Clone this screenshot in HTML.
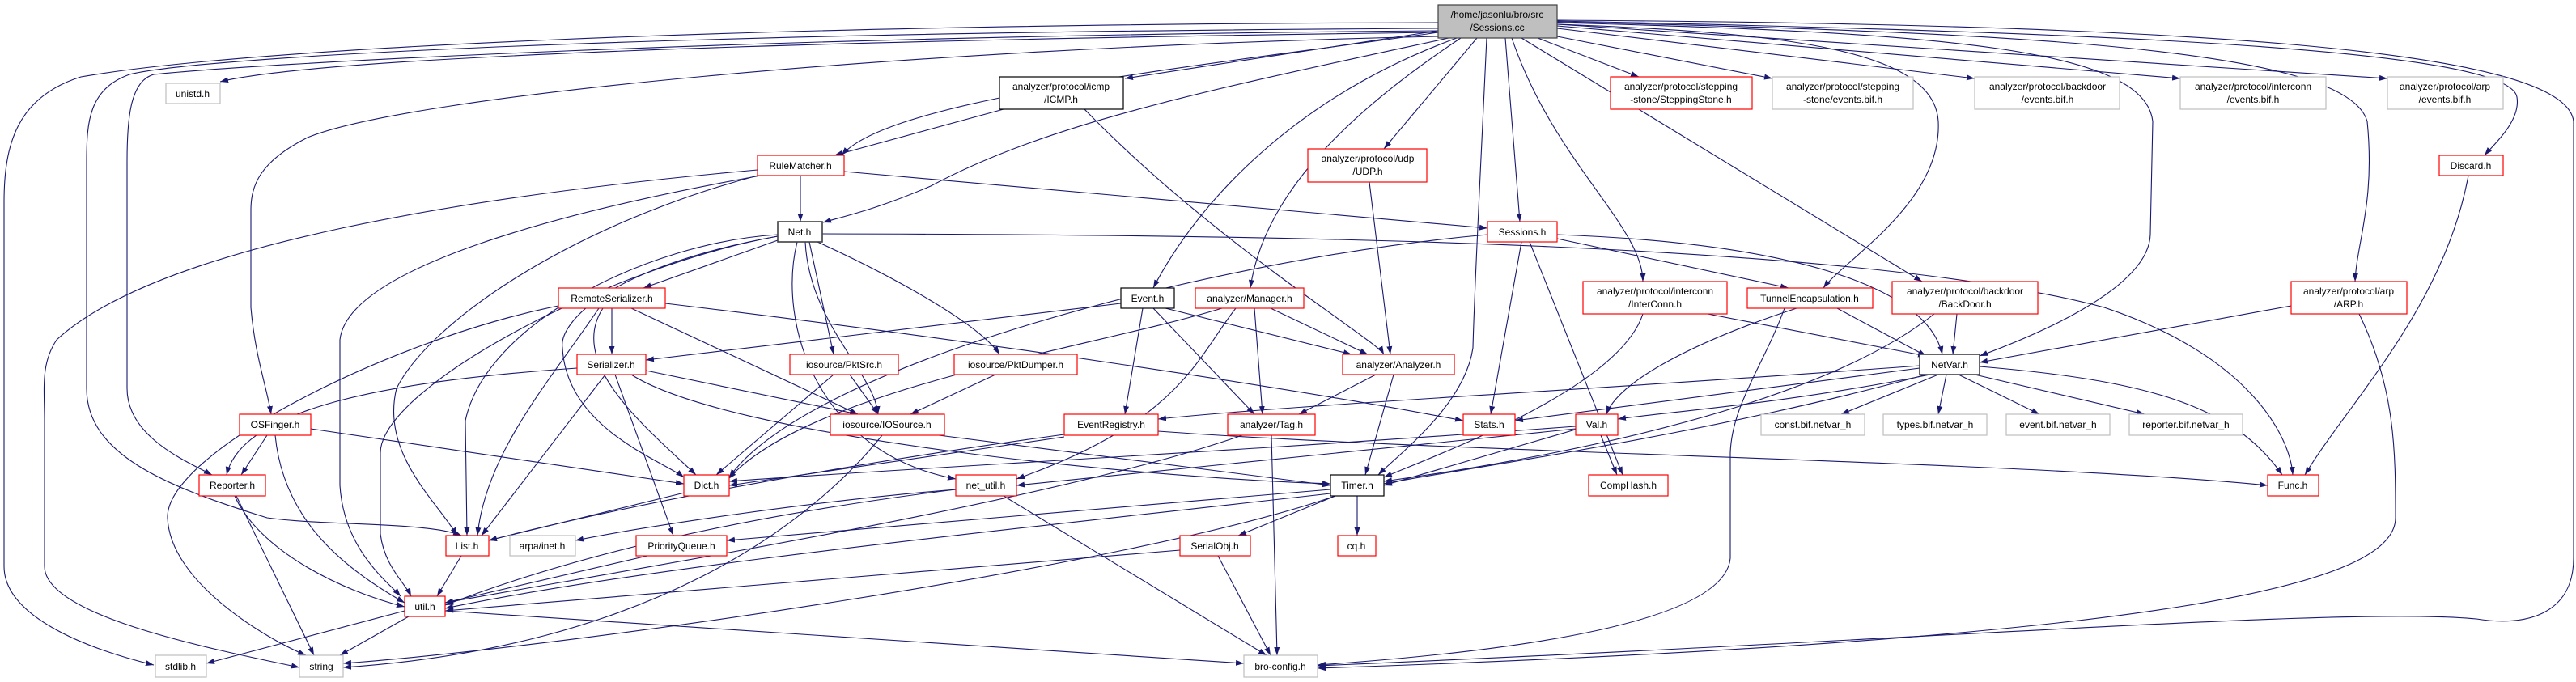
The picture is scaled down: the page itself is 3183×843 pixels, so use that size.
<!DOCTYPE html>
<html><head><meta charset="utf-8"><style>
html,body{margin:0;padding:0;background:#fff;}
svg{display:block;}
text{font-family:"Liberation Sans",Arial,sans-serif;font-size:12px;fill:#000;text-anchor:middle;}
.e{fill:none;stroke:#191970;stroke-width:1.1;marker-end:url(#a);}
.r{fill:#fff;stroke:#ff0000;stroke-width:1.2;}
.g{fill:#fff;stroke:#bfbfbf;stroke-width:1.2;}
.k{fill:#fff;stroke:#000;stroke-width:1.2;}
.m{fill:#bfbfbf;stroke:#404040;stroke-width:1.2;}
</style></head><body>
<svg width="3183" height="843" viewBox="0 0 3183 843" xmlns="http://www.w3.org/2000/svg">
<defs><marker id="a" markerUnits="userSpaceOnUse" markerWidth="11" markerHeight="8" refX="10" refY="3.5" orient="auto"><path d="M0,0 L10,3.5 L0,7 z" fill="#191970"/></marker></defs>
<g>
<path class="e" d="M1777,28 C900,30 300,60 100,95 C20,120 5,180 5,250 L5,700 C5,760 100,800 190,822"/>
<path class="e" d="M936,210 C600,240 200,300 70,420 C50,450 55,480 55,520 L55,700 C55,760 250,800 370,825"/>
<path class="e" d="M1777,35 C800,40 250,70 160,92 C110,110 107,150 107,200 L107,480 C107,560 200,600 330,640 C400,650 530,645 570,662"/>
<path class="e" d="M1777,38 C900,45 300,80 190,92 C160,100 157,150 157,200 L157,480 C157,540 230,570 262,587"/>
<path class="e" d="M1777,40 C1000,50 400,70 272,101"/>
<path class="e" d="M1777,45 C1100,60 500,120 380,170 C320,200 310,230 310,260 L310,380 C315,440 330,480 335,512"/>
<path class="e" d="M1777,40 C1500,80 1100,120 1040,192"/>
<path class="e" d="M1240,135 L1031,192"/>
<path class="e" d="M1790,47 C1500,110 1300,150 1150,230 C1080,260 1040,268 1017,275"/>
<path class="e" d="M1777,38 L1390,97"/>
<path class="e" d="M1800,47 C1600,120 1480,250 1425,356"/>
<path class="e" d="M1805,47 C1650,150 1560,250 1545,356"/>
<path class="e" d="M1825,47 L1710,184"/>
<path class="e" d="M1837,47 C1830,200 1822,350 1820,430 C1810,500 1730,560 1703,587"/>
<path class="e" d="M1860,47 L1878,274"/>
<path class="e" d="M1868,47 C1920,200 2030,280 2030,348"/>
<path class="e" d="M1924,30 C2200,40 2390,60 2395,150 C2400,250 2280,320 2253,356"/>
<path class="e" d="M1880,47 L2375,348"/>
<path class="e" d="M1900,47 L2025,95"/>
<path class="e" d="M1924,45 L2190,97"/>
<path class="e" d="M1924,35 L2440,97"/>
<path class="e" d="M1924,32 L2694,97"/>
<path class="e" d="M1924,30 L2950,97"/>
<path class="e" d="M1924,28 C2400,40 2650,60 2660,150 L2657,290 C2655,360 2500,420 2446,440"/>
<path class="e" d="M1924,27 C2500,40 2900,60 2925,150 C2935,250 2912,300 2910,348"/>
<path class="e" d="M1924,26 C2600,40 3100,60 3110,120 C3115,150 3080,180 3070,192"/>
<path class="e" d="M1924,25 C2700,30 3170,60 3180,150 L3180,690 C3180,760 3120,775 3060,765 C2900,750 2400,790 1628,823"/>
<path class="e" d="M1340,135 C1500,300 1700,420 1710,438"/>
<path class="e" d="M1692,225 L1718,438"/>
<path class="e" d="M989,217 L989,274"/>
<path class="e" d="M1043,212 L1838,282"/>
<path class="e" d="M940,217 C700,260 430,330 420,420 L420,600 C425,680 480,720 495,737"/>
<path class="e" d="M936,217 C700,280 530,400 490,480 C470,560 540,620 565,662"/>
<path class="e" d="M961,297 L795,356"/>
<path class="e" d="M961,290 C800,300 600,400 575,520 L577,662"/>
<path class="e" d="M961,292 C750,330 470,480 470,560 L470,660 C475,700 500,720 508,737"/>
<path class="e" d="M961,292 C750,330 690,400 695,430 C700,530 820,570 845,590"/>
<path class="e" d="M995,299 C1000,400 1080,460 1085,512"/>
<path class="e" d="M1000,299 L1030,438"/>
<path class="e" d="M1010,299 C1100,340 1210,400 1235,438"/>
<path class="e" d="M985,299 C960,400 1010,560 1181,592"/>
<path class="e" d="M1016,289 C1600,290 2300,300 2600,380 C2780,440 2830,540 2833,587"/>
<path class="e" d="M1838,290 C1500,320 1000,450 901,590"/>
<path class="e" d="M1880,299 L1842,512"/>
<path class="e" d="M1890,299 L2005,587"/>
<path class="e" d="M1924,295 L2210,356"/>
<path class="e" d="M1924,290 C2200,300 2380,350 2400,438"/>
<path class="e" d="M756,381 L756,438"/>
<path class="e" d="M745,381 C700,450 800,530 860,587"/>
<path class="e" d="M740,381 C680,470 600,560 590,662"/>
<path class="e" d="M780,381 L1060,512"/>
<path class="e" d="M822,375 C1200,420 1600,480 1808,520"/>
<path class="e" d="M690,378 C480,420 205,560 207,640 C210,720 330,790 378,810"/>
<path class="e" d="M1412,381 L1390,512"/>
<path class="e" d="M1440,381 L1670,438"/>
<path class="e" d="M1425,381 L1550,512"/>
<path class="e" d="M1385,375 L798,445"/>
<path class="e" d="M1570,381 L1690,438"/>
<path class="e" d="M1550,381 L1560,512"/>
<path class="e" d="M1527,381 C1480,440 1460,520 1256,592"/>
<path class="e" d="M1510,381 C1350,430 1000,480 900,592"/>
<path class="e" d="M1700,463 L1605,512"/>
<path class="e" d="M1722,463 L1687,587"/>
<path class="e" d="M2030,388 C2000,480 1780,560 1710,590"/>
<path class="e" d="M2110,388 L2380,440"/>
<path class="e" d="M2270,381 L2380,440"/>
<path class="e" d="M2220,381 C2100,420 2000,470 1985,512"/>
<path class="e" d="M2205,381 C2180,450 2140,500 2138,560 L2138,690 C2130,780 1800,810 1628,822"/>
<path class="e" d="M2418,388 L2413,438"/>
<path class="e" d="M2390,388 C2300,460 2100,540 1710,595"/>
<path class="e" d="M2831,378 L2446,448"/>
<path class="e" d="M2915,388 C2960,480 2960,560 2960,640 C2960,720 2700,790 1628,826"/>
<path class="e" d="M3050,217 C3020,380 2900,500 2848,587"/>
<path class="e" d="M713,455 C500,470 300,500 280,587"/>
<path class="e" d="M748,463 L595,662"/>
<path class="e" d="M798,458 L1060,512"/>
<path class="e" d="M760,463 L832,662"/>
<path class="e" d="M780,463 C900,540 1400,590 1644,598"/>
<path class="e" d="M1030,463 L885,587"/>
<path class="e" d="M1050,463 L1085,512"/>
<path class="e" d="M1230,463 L1125,512"/>
<path class="e" d="M2395,463 L2275,512"/>
<path class="e" d="M2405,463 L2395,512"/>
<path class="e" d="M2420,463 L2520,512"/>
<path class="e" d="M2440,463 L2650,512"/>
<path class="e" d="M2446,453 C2650,470 2760,500 2820,587"/>
<path class="e" d="M2385,463 C2200,500 2050,510 1999,518"/>
<path class="e" d="M2372,455 L1872,520"/>
<path class="e" d="M2372,452 C2000,480 1600,500 1431,518"/>
<path class="e" d="M2380,463 C2100,540 1800,580 1710,598"/>
<path class="e" d="M330,538 L298,587"/>
<path class="e" d="M340,538 C350,640 420,700 500,745"/>
<path class="e" d="M384,530 L845,598"/>
<path class="e" d="M1160,538 L1644,600"/>
<path class="e" d="M1090,538 C1000,650 800,800 424,825"/>
<path class="e" d="M1431,533 C1800,560 2500,570 2802,600"/>
<path class="e" d="M1315,537 C1000,580 750,630 604,668"/>
<path class="e" d="M1315,540 L901,600"/>
<path class="e" d="M1535,538 C1300,620 800,700 550,745"/>
<path class="e" d="M1571,538 L1578,810"/>
<path class="e" d="M1950,530 L1710,600"/>
<path class="e" d="M1978,538 L1998,587"/>
<path class="e" d="M1947,530 L1256,600"/>
<path class="e" d="M1947,527 C1500,560 1100,580 901,595"/>
<path class="e" d="M290,613 C320,680 420,730 500,750"/>
<path class="e" d="M292,613 L388,810"/>
<path class="e" d="M850,608 L604,668"/>
<path class="e" d="M1181,605 C900,640 700,690 550,748"/>
<path class="e" d="M1181,605 C1000,620 800,650 711,668"/>
<path class="e" d="M1240,613 L1565,810"/>
<path class="e" d="M1644,605 L898,668"/>
<path class="e" d="M1644,610 C1200,660 800,700 550,752"/>
<path class="e" d="M1650,613 L1530,662"/>
<path class="e" d="M1677,613 L1677,662"/>
<path class="e" d="M1650,613 C1400,700 700,800 424,820"/>
<path class="e" d="M1458,680 C1000,720 700,740 550,755"/>
<path class="e" d="M1505,687 L1570,810"/>
<path class="e" d="M570,687 L540,737"/>
<path class="e" d="M800,687 L550,745"/>
<path class="e" d="M500,755 L255,820"/>
<path class="e" d="M505,762 L420,810"/>
<path class="e" d="M550,755 L1537,820"/>
</g>
<g>
<rect class="m" x="1777" y="6" width="147" height="41"/><text x="1850" y="22">/home/jasonlu/bro/src</text><text x="1850" y="38">/Sessions.cc</text>
<rect class="g" x="205" y="103" width="67" height="25"/><text x="238" y="120">unistd.h</text>
<rect class="k" x="1235" y="95" width="153" height="40"/><text x="1311" y="111">analyzer/protocol/icmp</text><text x="1311" y="127">/ICMP.h</text>
<rect class="r" x="1990" y="95" width="175" height="40"/><text x="2077" y="111">analyzer/protocol/stepping</text><text x="2077" y="127">-stone/SteppingStone.h</text>
<rect class="g" x="2190" y="95" width="174" height="40"/><text x="2277" y="111">analyzer/protocol/stepping</text><text x="2277" y="127">-stone/events.bif.h</text>
<rect class="g" x="2440" y="95" width="179" height="40"/><text x="2530" y="111">analyzer/protocol/backdoor</text><text x="2530" y="127">/events.bif.h</text>
<rect class="g" x="2694" y="95" width="180" height="40"/><text x="2784" y="111">analyzer/protocol/interconn</text><text x="2784" y="127">/events.bif.h</text>
<rect class="g" x="2950" y="95" width="143" height="40"/><text x="3021" y="111">analyzer/protocol/arp</text><text x="3021" y="127">/events.bif.h</text>
<rect class="r" x="936" y="192" width="107" height="25"/><text x="989" y="209">RuleMatcher.h</text>
<rect class="r" x="1616" y="184" width="147" height="41"/><text x="1690" y="200">analyzer/protocol/udp</text><text x="1690" y="216">/UDP.h</text>
<rect class="r" x="3014" y="192" width="79" height="25"/><text x="3053" y="209">Discard.h</text>
<rect x="961" y="274" width="55" height="25" fill="#fff" stroke="#404040" stroke-width="1.6"/><text x="988" y="291">Net.h</text>
<rect class="r" x="1838" y="274" width="86" height="25"/><text x="1881" y="291">Sessions.h</text>
<rect class="r" x="690" y="356" width="132" height="25"/><text x="756" y="373">RemoteSerializer.h</text>
<rect class="k" x="1385" y="356" width="66" height="25"/><text x="1418" y="373">Event.h</text>
<rect class="r" x="1477" y="356" width="134" height="25"/><text x="1544" y="373">analyzer/Manager.h</text>
<rect class="r" x="1956" y="348" width="178" height="40"/><text x="2045" y="364">analyzer/protocol/interconn</text><text x="2045" y="380">/InterConn.h</text>
<rect class="r" x="2159" y="356" width="155" height="25"/><text x="2236" y="373">TunnelEncapsulation.h</text>
<rect class="r" x="2338" y="348" width="180" height="40"/><text x="2428" y="364">analyzer/protocol/backdoor</text><text x="2428" y="380">/BackDoor.h</text>
<rect class="r" x="2831" y="348" width="143" height="40"/><text x="2902" y="364">analyzer/protocol/arp</text><text x="2902" y="380">/ARP.h</text>
<rect class="r" x="713" y="438" width="85" height="25"/><text x="755" y="455">Serializer.h</text>
<rect class="r" x="976" y="438" width="134" height="25"/><text x="1043" y="455">iosource/PktSrc.h</text>
<rect class="r" x="1179" y="438" width="152" height="25"/><text x="1255" y="455">iosource/PktDumper.h</text>
<rect class="r" x="1659" y="438" width="138" height="25"/><text x="1728" y="455">analyzer/Analyzer.h</text>
<rect x="2372" y="438" width="74" height="25" fill="#fff" stroke="#404040" stroke-width="1.6"/><text x="2409" y="455">NetVar.h</text>
<rect class="r" x="296" y="512" width="88" height="26"/><text x="340" y="529">OSFinger.h</text>
<rect class="r" x="1026" y="512" width="141" height="26"/><text x="1096" y="529">iosource/IOSource.h</text>
<rect class="r" x="1315" y="512" width="116" height="26"/><text x="1373" y="529">EventRegistry.h</text>
<rect class="r" x="1517" y="512" width="108" height="26"/><text x="1571" y="529">analyzer/Tag.h</text>
<rect class="r" x="1808" y="512" width="64" height="26"/><text x="1840" y="529">Stats.h</text>
<rect class="r" x="1947" y="512" width="52" height="26"/><text x="1973" y="529">Val.h</text>
<rect class="g" x="2176" y="512" width="128" height="26"/><text x="2240" y="529">const.bif.netvar_h</text>
<rect class="g" x="2327" y="512" width="128" height="26"/><text x="2391" y="529">types.bif.netvar_h</text>
<rect class="g" x="2479" y="512" width="128" height="26"/><text x="2543" y="529">event.bif.netvar_h</text>
<rect class="g" x="2631" y="512" width="140" height="26"/><text x="2701" y="529">reporter.bif.netvar_h</text>
<rect class="r" x="246" y="587" width="82" height="26"/><text x="287" y="604">Reporter.h</text>
<rect class="r" x="845" y="587" width="56" height="26"/><text x="873" y="604">Dict.h</text>
<rect class="r" x="1181" y="587" width="75" height="26"/><text x="1218" y="604">net_util.h</text>
<rect class="k" x="1644" y="587" width="66" height="26"/><text x="1677" y="604">Timer.h</text>
<rect class="r" x="1963" y="587" width="98" height="26"/><text x="2012" y="604">CompHash.h</text>
<rect class="r" x="2802" y="587" width="63" height="26"/><text x="2833" y="604">Func.h</text>
<rect class="r" x="551" y="662" width="53" height="25"/><text x="577" y="679">List.h</text>
<rect class="g" x="630" y="662" width="81" height="25"/><text x="670" y="679">arpa/inet.h</text>
<rect class="r" x="786" y="662" width="112" height="25"/><text x="842" y="679">PriorityQueue.h</text>
<rect class="r" x="1458" y="662" width="87" height="25"/><text x="1501" y="679">SerialObj.h</text>
<rect class="r" x="1653" y="662" width="47" height="25"/><text x="1676" y="679">cq.h</text>
<rect class="r" x="500" y="737" width="50" height="25"/><text x="525" y="754">util.h</text>
<rect class="g" x="192" y="810" width="63" height="27"/><text x="223" y="828">stdlib.h</text>
<rect class="g" x="370" y="810" width="54" height="27"/><text x="397" y="828">string</text>
<rect class="g" x="1537" y="810" width="91" height="27"/><text x="1582" y="828">bro-config.h</text>
</g>
</svg>
</body></html>
